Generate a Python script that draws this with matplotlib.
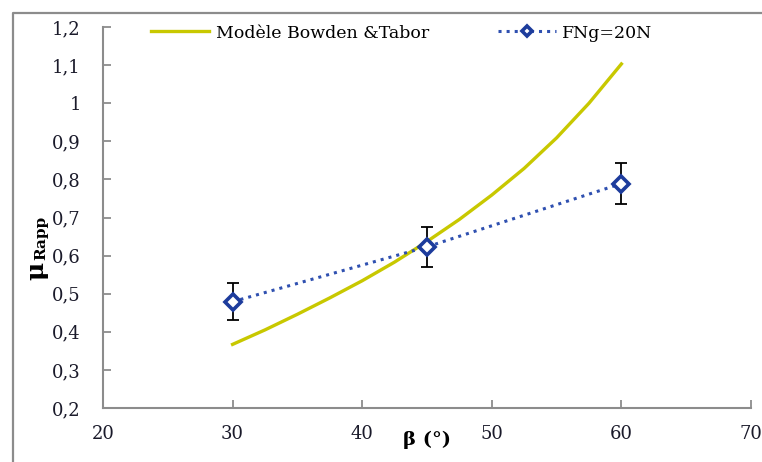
import matplotlib
matplotlib.use("Agg")
import matplotlib.pyplot as plt
from matplotlib.lines import Line2D

# Bowden & Tabor model curve
beta_model = [30, 32.5, 35, 37.5, 40, 42.5, 45, 47.5, 50, 52.5, 55, 57.5, 60]
mu_model = [0.367, 0.405, 0.446, 0.489, 0.534, 0.583, 0.637, 0.695, 0.759,
            0.829, 0.909, 1.000, 1.103]

# measurements FNg = 20N
beta_exp = [30, 45, 60]
mu_exp = [0.479, 0.623, 0.789]
mu_err = [0.049, 0.052, 0.054]

x_ticks = [20, 30, 40, 50, 60, 70]
y_ticks = [0.2, 0.3, 0.4, 0.5, 0.6, 0.7, 0.8, 0.9, 1.0, 1.1, 1.2]
y_labels = ['0,2', '0,3', '0,4', '0,5', '0,6', '0,7', '0,8', '0,9', '1', '1,1', '1,2']

plt.rcParams['font.family'] = ['DejaVu Serif']

W, H = 762, 462
fig = plt.figure(figsize=(W / 100, H / 100), dpi=100)
ax = fig.add_axes([103 / W, 1 - 408 / H, (751 - 103) / W, (408 - 27) / H])

# outer chart frame (only top and left edges are visible)
fx, fy = 12.5 / W, 1 - 13 / H
fig.add_artist(Line2D([fx, fx, 1.0], [0.0, fy, fy], transform=fig.transFigure,
                      color='#8c8c8c', linewidth=1.6))

ax.plot(beta_model, mu_model, color='#c8c800', linewidth=2.4,
        label='Modèle Bowden &Tabor', zorder=2)
ax.errorbar(beta_exp, mu_exp, yerr=mu_err, fmt='none', ecolor='black',
            elinewidth=1.3, capsize=4, capthick=1.3, zorder=3)
ax.plot(beta_exp, mu_exp, linestyle=':', color='#2f50b0', linewidth=2.2,
        marker='D', markersize=8, markerfacecolor='white',
        markeredgecolor='#1d3c9c', markeredgewidth=2.6,
        label='FNg=20N', zorder=4)

ax.set_xlim(20, 70)
ax.set_ylim(0.2, 1.2)
ax.set_xticks(x_ticks)
ax.set_yticks(y_ticks)
ax.set_yticklabels(y_labels)

for s in ['top', 'right']:
    ax.spines[s].set_visible(False)
for s in ['left', 'bottom']:
    ax.spines[s].set_color('#8c8c8c')
    ax.spines[s].set_linewidth(1.5)
ax.tick_params(direction='in', length=6, width=1.3, color='#8c8c8c',
               labelsize=13, labelcolor='#1a1a2a')
ax.tick_params(axis='x', pad=12)
ax.tick_params(axis='y', pad=16)

ax.set_xlabel('β (°)', fontsize=14, fontweight='bold')
ax.xaxis.set_label_coords(0.5, -0.06)
fig.text(36 / W, 1 - 271 / H, 'μ', rotation=90, fontsize=18,
         fontweight='bold', ha='center', va='center')
fig.text(41 / W, 1 - 238 / H, 'Rapp', rotation=90, fontsize=11,
         fontweight='bold', ha='center', va='center')

ax.legend(loc='center', bbox_to_anchor=(402 / W, 1 - 33 / H),
          bbox_transform=fig.transFigure, ncol=2, frameon=False,
          fontsize=12.5, handlelength=3.3, handletextpad=0.4,
          columnspacing=4.0, markerscale=0.7, borderpad=0)

fig.savefig('out.png', dpi=100)
